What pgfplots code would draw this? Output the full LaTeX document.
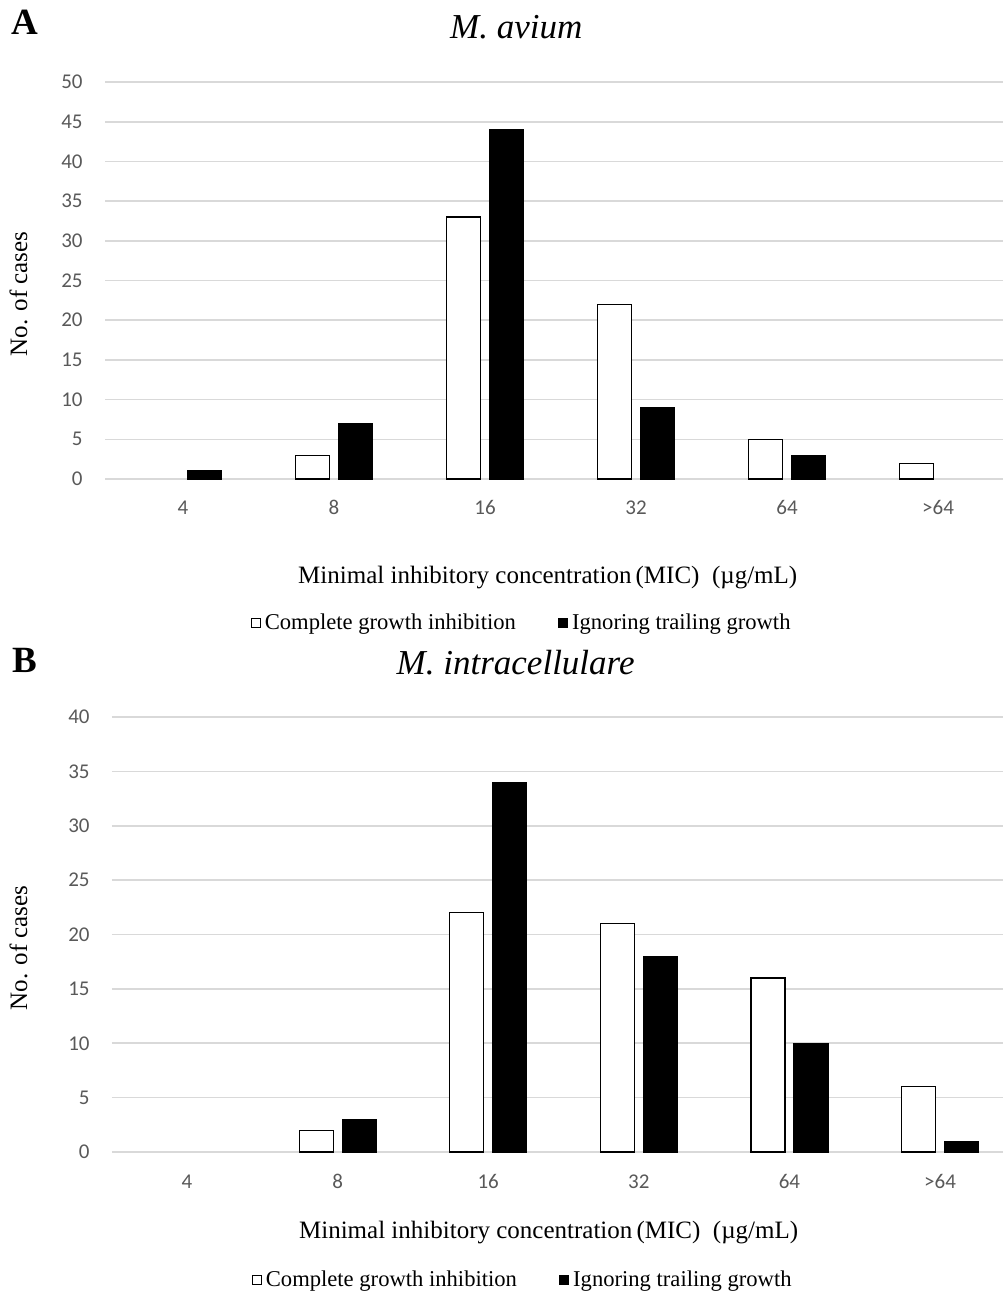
\documentclass[border=0pt]{standalone}
\usepackage{pgfplots}
\pgfplotsset{compat=1.18}
\usepackage{fontspec}
\setmainfont{Liberation Serif}
\newfontfamily\calibri{Carlito}
\definecolor{gridgray}{HTML}{D9D9D9}
\definecolor{ticktext}{HTML}{595959}
\pgfplotsset{
  micstyle/.style={
    scale only axis,
    ybar,
    bar width=17pt,
    axis line style={draw=none},
    major tick length=0pt,
    ymajorgrids,
    grid style={gridgray, line width=0.8pt},
    ymin=0,
    xtick={0,1,2,3,4,5},
    xticklabels={4,8,16,32,64,{>64}},
    /pgf/number format/assume math mode=true,
    tick label style={font=\calibri\fontsize{10.5}{12}\selectfont, text=ticktext},
    yticklabel style={anchor=east, inner sep=0pt, xshift=-11pt},
    xticklabel style={anchor=north, inner sep=0pt, text height=6.6pt, text depth=0pt},
    label style={font=\fontsize{12.5}{14}\selectfont},
    title style={font=\fontsize{17.5}{20}\selectfont\itshape, yshift=-6pt},
    legend style={draw=none, font=\fontsize{11.3}{13}\selectfont, column sep=0pt, inner sep=0pt,
      /tikz/every even column/.append style={column sep=19pt}},
    legend columns=2,
    legend image code/.code={\draw[#1, line width=0.5pt] (0pt,-2.3pt) rectangle (4.6pt,2.3pt);},
    legend cell align=left,
  },
  whitebar/.style={fill=white, draw=black, line width=0.6pt, bar shift=-10.75pt},
  blackbar/.style={fill=black, draw=black, line width=0.6pt, bar shift=10.75pt},
}
\begin{document}
\begin{tikzpicture}
\path[use as bounding box] (0pt,0pt) rectangle (501.5pt,-648pt);
\node[font=\fontsize{18.5}{20}\selectfont\bfseries] at (12.5pt,-11pt) {A};
\node[font=\fontsize{18.5}{20}\selectfont\bfseries] at (12.5pt,-330pt) {B};
% Panel A
\begin{axis}[micstyle,
  at={(52.5pt,-239.5pt)}, anchor=south west,
  width=449pt, height=198.5pt,
  xmin=-0.517, xmax=5.430,
  ymax=50, ytick={0,5,...,50},
  xticklabel style={yshift=-11pt},
  title={M. avium},
  title style={at={(axis description cs:0.458,1.139)}, anchor=center},
  xlabel={Minimal inhibitory concentration\,(MIC)\ \ (µg/mL)},
  xlabel style={at={(axis description cs:0.493,-0.249)}, anchor=center},
  ylabel={No. of cases},
  ylabel style={at={(axis description cs:-0.0963,0.466)}, anchor=center},
  legend style={at={(axis description cs:0.465,-0.363)}, anchor=center},
]
\addplot[whitebar] coordinates {(1,3) (2,33) (3,22) (4,5) (5,2)};
\addlegendentry{Complete growth inhibition}
\addplot[blackbar] coordinates {(0,1) (1,7) (2,44) (3,9) (4,3)};
\addlegendentry{Ignoring trailing growth}
\end{axis}
% Panel B
\begin{axis}[micstyle,
  at={(56pt,-576pt)}, anchor=south west,
  width=445.5pt, height=217.5pt,
  xmin=-0.498, xmax=5.418,
  ymax=40, ytick={0,5,...,40},
  xticklabel style={yshift=-11.5pt},
  title={M. intracellulare},
  title style={at={(axis description cs:0.453,1.126)}, anchor=center},
  xlabel={Minimal inhibitory concentration\,(MIC)\ \ (µg/mL)},
  xlabel style={at={(axis description cs:0.49,-0.186)}, anchor=center},
  ylabel={No. of cases},
  ylabel style={at={(axis description cs:-0.105,0.469)}, anchor=center},
  legend style={at={(axis description cs:0.462,-0.294)}, anchor=center},
]
\addplot[whitebar] coordinates {(1,2) (2,22) (3,21) (4,16) (5,6)};
\addlegendentry{Complete growth inhibition}
\addplot[blackbar] coordinates {(1,3) (2,34) (3,18) (4,10) (5,1)};
\addlegendentry{Ignoring trailing growth}
\end{axis}
\end{tikzpicture}
\end{document}
